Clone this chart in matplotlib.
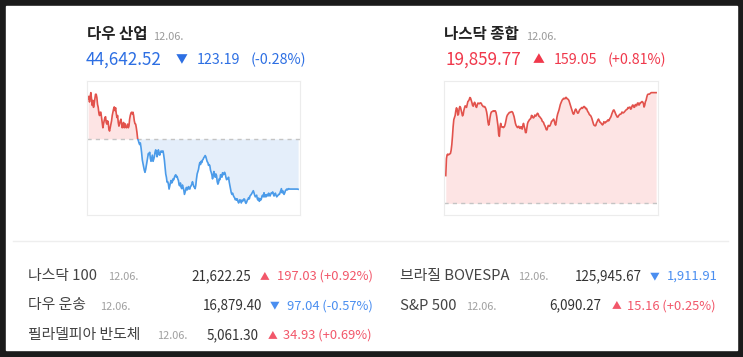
import numpy as np
import matplotlib
matplotlib.use("Agg")
import matplotlib.pyplot as plt
from matplotlib.patches import Rectangle

plt.rcParams['font.family'] = ['Noto Sans CJK KR', 'DejaVu Sans']

W, H = 743, 357

# ---- data ----
dow_prev = 44765.71
dow_vals = [
    44864, 44870, 44856, 44869, 44879, 44864, 44848, 44860, 44843, 44852,
    44864, 44875, 44875, 44867, 44850, 44843, 44829, 44823, 44831, 44831,
    44818, 44806, 44793, 44803, 44810, 44818, 44820, 44806, 44802, 44810,
    44806, 44789, 44785, 44793, 44802, 44810, 44823, 44831, 44839, 44844,
    44835, 44842, 44828, 44818, 44823, 44806, 44797, 44802, 44810, 44814,
    44803, 44793, 44802, 44806, 44793, 44803, 44797, 44793, 44795, 44802,
    44793, 44797, 44814, 44823, 44829, 44831, 44827, 44831, 44823, 44810,
    44803, 44802, 44793, 44781, 44766, 44762, 44756, 44752, 44756, 44745,
    44731, 44714, 44705, 44697, 44689, 44684, 44691, 44701, 44710, 44722,
    44730, 44728, 44733, 44718, 44711, 44718, 44726, 44711, 44716, 44722,
    44733, 44739, 44733, 44722, 44728, 44739, 44730, 44726, 44733, 44736,
    44733, 44736, 44736, 44726, 44714, 44697, 44680, 44672, 44660, 44661,
    44655, 44643, 44651, 44658, 44664, 44658, 44661, 44668, 44666, 44672,
    44676, 44678, 44672, 44674, 44668, 44664, 44653, 44651, 44658, 44647,
    44644, 44653, 44647, 44641, 44630, 44636, 44643, 44647, 44641, 44643,
    44649, 44644, 44643, 44649, 44651, 44655, 44661, 44655, 44649, 44647,
    44644, 44653, 44668, 44680, 44686, 44691, 44701, 44708, 44703, 44711,
    44708, 44714, 44716, 44720, 44722, 44725, 44722, 44716, 44710, 44708,
    44701, 44703, 44700, 44689, 44684, 44678, 44668, 44676, 44686, 44678,
    44672, 44680, 44676, 44661, 44655, 44659, 44668, 44666, 44678, 44676,
    44672, 44683, 44678, 44680, 44684, 44680, 44672, 44666, 44668, 44669,
    44672, 44660, 44651, 44641, 44634, 44630, 44633, 44628, 44624, 44622,
    44617, 44619, 44616, 44619, 44613, 44609, 44613, 44617, 44613, 44609,
    44616, 44613, 44616, 44619, 44618, 44611, 44608, 44611, 44616, 44618,
    44622, 44619, 44626, 44628, 44630, 44633, 44636, 44639, 44634, 44628,
    44624, 44626, 44628, 44619, 44616, 44621, 44613, 44619, 44616, 44619,
    44626, 44628, 44624, 44634, 44624, 44629, 44624, 44628, 44630, 44626,
    44633, 44630, 44626, 44630, 44634, 44633, 44636, 44630, 44626, 44630,
    44633, 44628, 44624, 44626, 44628, 44630, 44630, 44634, 44639, 44644,
    44634, 44639, 44633, 44630, 44634, 44639, 44641, 44643, 44641, 44643,
    44644, 44643, 44643, 44643, 44643, 44643, 44643, 44643, 44643, 44643,
    44643, 44643, 44643, 44643, 44642.52,
]

nas_prev = 19700.72
nas_vals = [
    19740.6, 19765.0, 19770.5, 19771.5, 19770.4, 19771.0, 19771.8, 19772.5, 19777.0, 19785.0,
    19797.0, 19811.0, 19821.0, 19824.0, 19827.0, 19834.0, 19838.0, 19835.5, 19827.5, 19828.7,
    19836.7, 19839.8, 19838.6, 19834.8, 19830.4, 19826.4, 19828.3, 19834.3, 19837.9, 19840.8,
    19839.6, 19838.6, 19843.0, 19847.0, 19848.0, 19849.7, 19852.8, 19851.9, 19848.7, 19845.6,
    19841.5, 19840.3, 19843.9, 19845.9, 19844.0, 19839.6, 19838.6, 19842.0, 19844.8, 19844.4,
    19843.9, 19844.6, 19845.1, 19844.4, 19842.0, 19841.0, 19839.6, 19839.6, 19839.8, 19838.4,
    19836.0, 19831.9, 19825.9, 19817.5, 19813.1, 19816.8, 19823.5, 19829.0, 19831.9, 19832.4,
    19833.1, 19833.6, 19832.8, 19833.6, 19833.6, 19831.2, 19825.9, 19818.7, 19811.5, 19799.5,
    19797.0, 19810.3, 19815.6, 19810.8, 19810.3, 19810.8, 19809.6, 19810.3, 19812.0, 19815.6,
    19820.4, 19825.2, 19827.6, 19828.8, 19830.2, 19831.4, 19831.4, 19831.9, 19832.4, 19832.4,
    19831.2, 19828.3, 19825.2, 19820.4, 19815.6, 19812.7, 19811.0, 19809.6, 19810.8, 19811.5,
    19809.1, 19808.4, 19810.8, 19810.3, 19807.4, 19812.2, 19815.6, 19812.0, 19807.9, 19802.4,
    19802.4, 19809.1, 19815.1, 19818.0, 19819.2, 19821.1, 19821.8, 19823.0, 19827.1, 19826.4,
    19824.0, 19823.5, 19824.7, 19827.6, 19826.4, 19826.4, 19828.8, 19830.2, 19829.0, 19825.9,
    19825.4, 19824.2, 19822.8, 19821.6, 19818.7, 19818.0, 19816.8, 19813.9, 19812.2, 19809.8,
    19806.7, 19806.2, 19809.3, 19812.7, 19812.0, 19811.5, 19813.1, 19815.6, 19818.7, 19819.2,
    19820.4, 19821.8, 19819.4, 19815.1, 19813.1, 19818.0, 19824.7, 19829.0, 19831.9, 19834.8,
    19839.1, 19842.7, 19845.1, 19847.5, 19849.4, 19850.6, 19851.6, 19851.1, 19851.1, 19852.8,
    19852.8, 19851.1, 19850.6, 19849.9, 19848.0, 19844.9, 19841.5, 19838.6, 19835.5, 19832.6,
    19829.5, 19828.8, 19831.2, 19834.8, 19836.2, 19834.3, 19831.9, 19830.2, 19830.7, 19833.1,
    19835.5, 19836.2, 19837.4, 19838.4, 19837.2, 19838.6, 19839.8, 19839.8, 19838.1, 19836.7,
    19837.2, 19834.8, 19832.4, 19831.4, 19829.0, 19827.6, 19827.1, 19825.4, 19823.0, 19819.4,
    19816.3, 19813.4, 19812.7, 19812.0, 19812.7, 19816.3, 19818.0, 19820.4, 19821.8, 19819.9,
    19817.5, 19817.0, 19815.6, 19814.4, 19813.4, 19814.6, 19818.0, 19816.8, 19816.3, 19818.0,
    19818.0, 19819.4, 19820.6, 19819.2, 19820.4, 19822.8, 19824.0, 19826.4, 19829.5, 19831.9,
    19834.3, 19835.0, 19833.1, 19830.7, 19828.3, 19826.6, 19824.7, 19824.7, 19826.6, 19827.6,
    19828.8, 19828.8, 19829.5, 19831.9, 19831.2, 19830.7, 19831.4, 19832.6, 19833.6, 19834.8,
    19835.5, 19836.0, 19838.4, 19837.9, 19838.6, 19839.1, 19836.0, 19836.7, 19840.3, 19842.0,
    19841.5, 19838.6, 19839.1, 19842.7, 19841.5, 19840.8, 19844.4, 19845.1, 19842.2, 19842.2,
    19845.1, 19845.1, 19846.3, 19847.0, 19846.3, 19844.4, 19839.1, 19841.5, 19846.8, 19848.7,
    19853.0, 19856.4, 19857.6, 19857.6, 19857.6, 19858.5, 19859.3, 19859.8, 19859.8, 19859.8,
    19859.8, 19859.8, 19859.8, 19859.8, 19859.77,
]

# header texts: name, date, value, change, pct, direction
headers = [
    ("다우 산업", "12.06.", "44,642.52", "123.19", "(-0.28%)", "down"),
    ("나스닥 종합", "12.06.", "19,859.77", "159.05", "(+0.81%)", "up"),
]

# list rows: name, date, value, change text, direction
rows_left = [
    ("나스닥 100", "12.06.", "21,622.25", "197.03 (+0.92%)", "up"),
    ("다우 운송", "12.06.", "16,879.40", "97.04 (-0.57%)", "down"),
    ("필라델피아 반도체", "12.06.", "5,061.30", "34.93 (+0.69%)", "up"),
]
rows_right = [
    ("브라질 BOVESPA", "12.06.", "125,945.67", "1,911.91", "down"),
    ("S&P 500", "12.06.", "6,090.27", "15.16 (+0.25%)", "up"),
]

RED_TXT = '#f0384b'
BLUE_TXT = '#2d6fe3'
RED_ROW = '#f2576a'
BLUE_ROW = '#4a8ef0'
RED_LINE = '#e2524c'
RED_FILL = '#fde4e4'
BLUE_LINE = '#4b9be9'
BLUE_FILL = '#e4eefa'


def fx(x):
    return x / W


def fy(y):
    return 1 - y / H


fig = plt.figure(figsize=(W / 100, H / 100), dpi=100, facecolor='#1b1b1b')
fig.patches.append(Rectangle((fx(6), fy(350)), fx(737) - fx(6), fy(6) - fy(350),
                             transform=fig.transFigure, color='white', zorder=-10))


def mini_chart(box, vals, prev):
    left, top, right, bottom = box
    ax = fig.add_axes([fx(left), fy(bottom), fx(right) - fx(left), fy(top) - fy(bottom)])
    y = np.array(vals, dtype=float)
    x = np.arange(len(y))
    lo, hi = min(y.min(), prev), max(y.max(), prev)
    pad = (hi - lo) * 0.105
    ax.set_ylim(lo - pad, hi + pad)
    n = len(y) - 1
    ax.set_xlim(-n * 0.007, n * 1.009)

    ax.fill_between(x, y, prev, where=y >= prev, interpolate=True,
                    color=RED_FILL, lw=0)
    ax.fill_between(x, y, prev, where=y <= prev, interpolate=True,
                    color=BLUE_FILL, lw=0)
    ax.axhline(prev, color='#c4c4c4', lw=1.0, ls=(0, (3, 3)))

    up, = ax.plot(x, y, color=RED_LINE, lw=1.2)
    dn, = ax.plot(x, y, color=BLUE_LINE, lw=1.2)
    up.set_clip_path(Rectangle((-10, prev), n + 20, 1e5, transform=ax.transData))
    dn.set_clip_path(Rectangle((-10, prev - 1e5), n + 20, 1e5, transform=ax.transData))

    ax.set_xticks([])
    ax.set_yticks([])
    for s in ax.spines.values():
        s.set_color('#ececec')
        s.set_linewidth(0.8)
    return ax


mini_chart((86.7, 81, 300, 215), dow_vals, dow_prev)
mini_chart((444.3, 81, 658, 215), nas_vals, nas_prev)

# header text
head_pos = [
    # title x, date x, value x, arrow cx, change x, pct x
    (87, 152.7, 86, 181.7, 196.7, 250.7),
    (444.3, 525.7, 445, 538.5, 554, 607.7),
]
for (name, date, val, chg, pct, d), (tx, dx, vx, ax_, cx, px) in zip(headers, head_pos):
    col = RED_TXT if d == "up" else BLUE_TXT
    arrow = "▲" if d == "up" else "▼"
    fig.text(fx(tx), fy(39.5), name, fontsize=11.2, fontweight='bold', color='#222222', va='baseline')
    fig.text(fx(dx), fy(39.5), date, fontsize=7.9, color='#9a9a9a', va='baseline')
    fig.text(fx(vx), fy(64.5), val, fontsize=12.3, color=col, va='baseline')
    fig.text(fx(ax_), fy(63), arrow, fontsize=8.5, color=col, va='baseline', ha='center')
    fig.text(fx(cx), fy(64.5), chg, fontsize=10.3, color=col, va='baseline')
    fig.text(fx(px), fy(64.5), pct, fontsize=10.3, color=col, va='baseline')

# separator
fig.add_artist(plt.Line2D([fx(13), fx(728)], [fy(241), fy(241)], color='#eeeeee', lw=1))

# list rows
left_pos = [
    # name x, date x, value right, arrow cx, change x, baseline
    (28, 108, 250.7, 264.5, 276.7, 280),
    (28, 100, 262.3, 274.8, 287.3, 309.5),
    (28, 157.3, 259, 272.2, 283.3, 339),
]
right_pos = [
    (400, 517.7, 642.3, 655, 667.3, 280),
    (400, 465.7, 601.7, 616.5, 626.7, 309.5),
]
for rows, poss in ((rows_left, left_pos), (rows_right, right_pos)):
    for (name, date, val, chg, d), (nx, dx, vr, acx, cx, by) in zip(rows, poss):
        col = RED_ROW if d == "up" else BLUE_ROW
        arrow = "▲" if d == "up" else "▼"
        fig.text(fx(nx), fy(by), name, fontsize=10.7, color='#444444', va='baseline')
        fig.text(fx(dx), fy(by), date, fontsize=7.9, color='#a0a0a0', va='baseline')
        fig.text(fx(vr), fy(by), val, fontsize=9.7, color='#333333', va='baseline', ha='right')
        fig.text(fx(acx), fy(by - 1), arrow, fontsize=7, color=col, va='baseline', ha='center')
        fig.text(fx(cx), fy(by), chg, fontsize=9.3, color=col, va='baseline')

fig.savefig('out.png', dpi=100, facecolor=fig.get_facecolor())
